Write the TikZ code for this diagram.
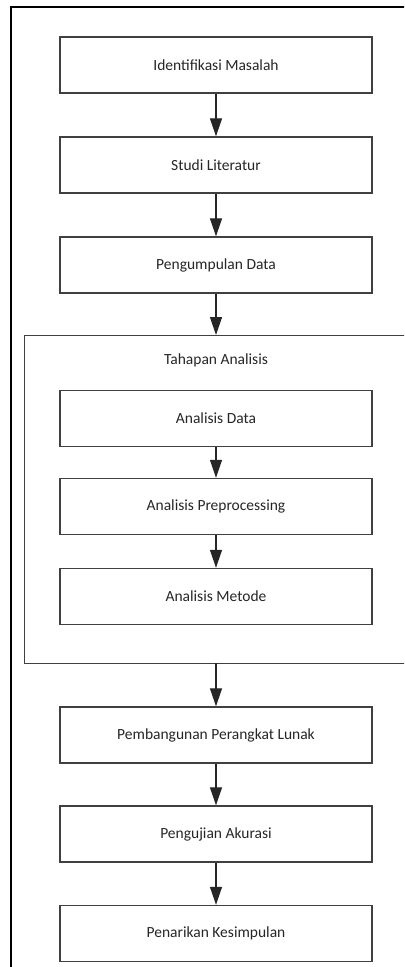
\documentclass[tikz,border=0pt]{standalone}
\usepackage{fontspec}
\setmainfont{Carlito}
\usetikzlibrary{arrows.meta}
\tikzset{
  boxfont/.style={font=\fontsize{15.5bp}{18bp}\selectfont, text=black!85},
  stepbox/.style={draw=black!75, line width=1.4bp, fill=white, minimum width=312bp, minimum height=56bp, inner sep=0pt, boxfont},
  flow/.style={draw=black!85, line width=1.3bp, -{Triangle[width=12bp,length=18bp]}},
}
\begin{document}
\begin{tikzpicture}[x=1bp,y=-1bp]
\useasboundingbox (0,0) rectangle (404,967);
\clip (0,0) rectangle (404,967);
% outer frame (cropped)
\draw[line width=2bp, black] (11,985) -- (11,7) -- (420,7);
% container
\node[draw=black!75, line width=1.4bp, minimum width=400bp, minimum height=328bp, inner sep=0pt, anchor=north west] (grp) at (24,335) {};
\node[boxfont] (grptitle) at (216,360) {Tahapan Analisis};
% boxes
\node[stepbox] (b1) at (216,65) {Identifikasi Masalah};
\node[stepbox] (b2) at (216,165) {Studi Literatur};
\node[stepbox] (b3) at (216,265) {Pengumpulan Data};
\node[stepbox] (a1) at (216,418.5) {Analisis Data};
\node[stepbox] (a2) at (216,506.5) {Analisis Preprocessing};
\node[stepbox] (a3) at (216,596.5) {Analisis Metode};
\node[stepbox] (b4) at (216,735) {Pembangunan Perangkat Lunak};
\node[stepbox] (b5) at (216,834) {Pengujian Akurasi};
\node[stepbox] (b6) at (216,933.5) {Penarikan Kesimpulan};
% connectors
\coordinate (gtop) at (216,335);
\coordinate (gbot) at (216,663);
\draw[flow] (b1) -- (b2);
\draw[flow] (b2) -- (b3);
\draw[flow] (b3.south) -- (gtop);
\draw[flow] (a1) -- (a2);
\draw[flow] (a2) -- (a3);
\draw[flow] (gbot) -- (b4.north);
\draw[flow] (b4) -- (b5);
\draw[flow] (b5) -- (b6);
\end{tikzpicture}
\end{document}
